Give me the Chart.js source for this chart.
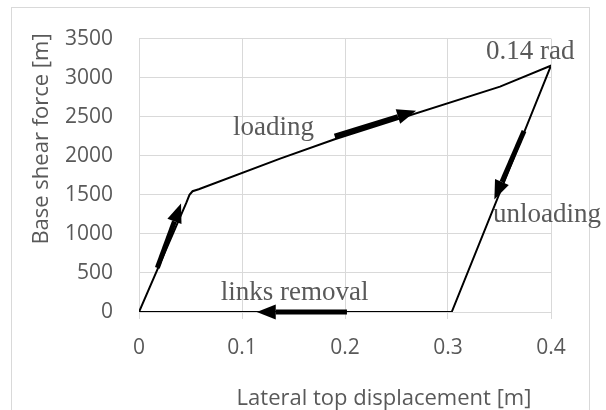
<!DOCTYPE html>
<html>
<head>
<meta charset="utf-8">
<script src="https://cdn.jsdelivr.net/npm/chart.js@4.4.0/dist/chart.umd.min.js"></script>
<style>
    html, body { margin: 0; padding: 0; background: #fff; }
    #wrap { width: 606px; height: 410px; position: relative; }
</style>
</head>
<body>
<div id="wrap"><canvas id="pushChart"></canvas></div>
<script>
// Datos
const displacement = [0, 0.046, 0.049, 0.052, 0.058, 0.137, 0.19, 0.3505, 0.4, 0.3036, 0];
const baseShear = [0, 1400, 1500, 1546, 1572, 1963, 2212, 2885, 3155, 0, 0];
const xTicks = [0, 0.1, 0.2, 0.3, 0.4];
const yTicks = [0, 500, 1000, 1500, 2000, 2500, 3000, 3500];

// Flechas: [x inicio, y inicio, x punta, y punta]
const arrows = [
    [0.0178, 566, 0.0408, 1388],
    [0.190, 2250, 0.269, 2575],
    [0.3738, 2316, 0.345, 1441],
    [0.2019, 0, 0.1143, 0]
];

// Etiquetas: [texto, x, y]
const labels = [
    ['0.14 rad', 0.337, 3237],
    ['loading', 0.0913, 2262],
    ['unloading', 0.3437, 1150],
    ['links removal', 0.0793, 150]
];

const points = displacement.map((x, i) => ({ x: x, y: baseShear[i] }));

const gray = '#595959';
const gridColor = '#d9d9d9';

const framePlugin = {
    id: 'frame',
    beforeDraw(chart) {
        const ctx = chart.ctx;
        ctx.save();
        ctx.fillStyle = '#fff';
        ctx.fillRect(0, 0, chart.width, chart.height);
        ctx.strokeStyle = gridColor;
        ctx.lineWidth = 1;
        ctx.strokeRect(11.5, 7.5, 578, 420);
        ctx.restore();
    }
};

const arrowPlugin = {
    id: 'arrows',
    afterDatasetsDraw(chart) {
        const ctx = chart.ctx;
        const xs = chart.scales.x;
        const ys = chart.scales.y;
        ctx.save();
        ctx.fillStyle = '#000';
        ctx.strokeStyle = '#000';
        arrows.forEach(a => {
            const x1 = xs.getPixelForValue(a[0]);
            const y1 = ys.getPixelForValue(a[1]);
            const x2 = xs.getPixelForValue(a[2]);
            const y2 = ys.getPixelForValue(a[3]);
            const ang = Math.atan2(y2 - y1, x2 - x1);
            const headLen = 19;
            const headW = 7.5;
            const bx = x2 - headLen * Math.cos(ang);
            const by = y2 - headLen * Math.sin(ang);
            ctx.lineWidth = 5;
            ctx.beginPath();
            ctx.moveTo(x1, y1);
            ctx.lineTo(bx, by);
            ctx.stroke();
            ctx.beginPath();
            ctx.moveTo(x2, y2);
            ctx.lineTo(bx + headW * Math.sin(ang), by - headW * Math.cos(ang));
            ctx.lineTo(bx - headW * Math.sin(ang), by + headW * Math.cos(ang));
            ctx.closePath();
            ctx.fill();
        });
        ctx.restore();
    }
};

const textPlugin = {
    id: 'texts',
    afterDraw(chart) {
        const ctx = chart.ctx;
        const xs = chart.scales.x;
        const ys = chart.scales.y;
        ctx.save();
        ctx.fillStyle = gray;
        ctx.font = '27px "Liberation Serif"';
        ctx.textAlign = 'left';
        ctx.textBaseline = 'alphabetic';
        labels.forEach(l => {
            ctx.fillText(l[0], xs.getPixelForValue(l[1]), ys.getPixelForValue(l[2]));
        });

        // Títulos de ejes
        ctx.font = '22px "Open Sans"';
        ctx.textAlign = 'center';
        ctx.fillText('Lateral top displacement [m]', 384, 405);
        ctx.translate(48, 139);
        ctx.rotate(-Math.PI / 2);
        ctx.fillText('Base shear force [m]', 0, 0);
        ctx.restore();
    }
};

const ctx = document.getElementById('pushChart').getContext('2d');
const pushChart = new Chart(ctx, {
    type: 'scatter',
    data: {
        datasets: [{
            data: points,
            showLine: true,
            borderColor: '#000',
            borderWidth: 2,
            pointRadius: 0,
            tension: 0,
            fill: false
        }]
    },
    options: {
        responsive: true,
        maintainAspectRatio: false,
        animation: false,
        layout: {
            padding: { top: 32, left: 0, right: 55, bottom: 0 }
        },
        scales: {
            x: {
                type: 'linear',
                min: xTicks[0],
                max: xTicks[xTicks.length - 1],
                afterFit: scale => { scale.height = 98; },
                afterBuildTicks: scale => { scale.ticks = xTicks.map(v => ({ value: v })); },
                grid: { color: gridColor, tickLength: 7, drawTicks: true },
                border: { color: gridColor },
                ticks: {
                    padding: 16,
                    color: gray,
                    font: { family: 'Open Sans', size: 21 },
                    callback: v => String(v)
                }
            },
            y: {
                type: 'linear',
                min: yTicks[0],
                max: yTicks[yTicks.length - 1],
                afterFit: scale => { scale.width = 139; },
                afterBuildTicks: scale => { scale.ticks = yTicks.map(v => ({ value: v })); },
                grid: { color: gridColor, drawTicks: false },
                border: { color: gridColor },
                ticks: {
                    padding: 26,
                    color: gray,
                    font: { family: 'Open Sans', size: 21 },
                    callback: v => String(v)
                }
            }
        },
        plugins: {
            legend: { display: false },
            tooltip: { enabled: false }
        }
    },
    plugins: [framePlugin, arrowPlugin, textPlugin]
});
</script>
</body>
</html>
